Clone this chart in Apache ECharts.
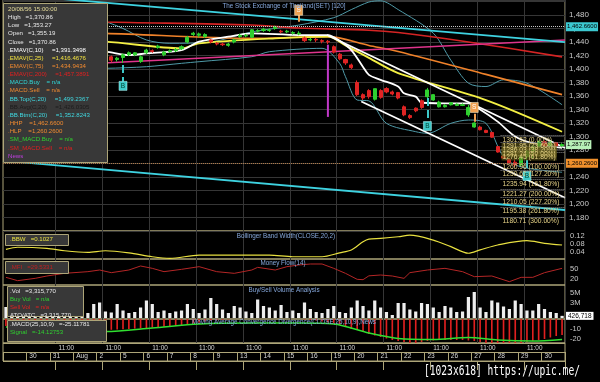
<!DOCTYPE html>
<html><head><meta charset="utf-8">
<script src="https://cdn.jsdelivr.net/npm/echarts@6/dist/echarts.min.js"></script>
<style>html,body{margin:0;padding:0;background:#000;}#c{width:600px;height:382px;}</style>
</head><body><div id="c"></div>
<script>
// ---------- time slots ----------
const dayLabels = ['', '30', '31', 'Aug', '2', '5', '6', '7', '8', '9', '13', '14', '15', '16', '19', '20', '21', '22', '23', '26', '27', '28', '29', '30'];
const barsPerDay = 4;
const hourLabel = '11:00';
const categories = [];
dayLabels.forEach((d, di) => { for (let k = 0; k < barsPerDay; k++) categories.push(di + ':' + k); });

// ---------- price bars (index 0..95) ----------
const opens  = [1432,1436,1433,1428,1431,1426,1424,1428,1425,1420,1423,1419,1416,1420,1417,1421,1418,1420,1418,1414,1417,1421,1421,1411,1424,1427,1432,1421,1426,1427,1430,1440,1451,1450,1448,1443,1438,1437,1435,1440,1448,1449,1447,1456,1457,1457,1460,1456,1455,1453,1452,1446,1443,1444,1442,1441,1433,1422,1414,1406,1380,1362,1368,1355.19,1368,1371,1366,1365,1344,1331,1342,1353,1359,1354,1344,1344,1347,1346,1346,1332,1314,1314,1309,1306,1285,1271,1266,1262,1258,1270,1278,1285,1292,1286,1291,1286];
const closes = [1436,1433,1428,1431,1426,1424,1428,1425,1420,1423,1419,1416,1420,1417,1421,1418,1420,1417,1413,1416,1421,1424,1424,1418,1428,1426,1434,1425,1427,1429,1433,1447,1453,1452,1451,1440,1437,1436,1437,1443,1450,1450,1458,1457,1459,1458,1462,1455,1456,1454,1453,1442,1444,1443,1441,1440,1425,1415,1409,1402,1362,1357,1359,1370.86,1358,1366,1363,1357,1332,1328,1338,1343,1369,1362,1351,1346,1350,1348,1347,1343,1320,1310,1306,1299,1277,1268,1261,1258,1270,1278,1285,1292,1286,1291,1286,1287.97];
const lows   = [1430,1430,1425,1426,1423,1420,1422,1421,1417,1418,1416,1412,1414,1414,1415,1415,1416,1414,1410,1411,1409,1419,1419,1409,1422,1424,1430,1419,1424,1425,1428,1438,1449,1447,1446,1438,1435,1434,1433,1438,1446,1447,1446,1454,1455,1455,1458,1453,1453,1451,1450,1440,1441,1440,1438,1437,1423,1413,1406,1400,1360,1354,1356,1353.27,1356,1364,1361,1355,1330,1326,1336,1341,1357,1353,1343,1343,1346,1345,1345,1329,1313,1309,1305,1298,1276,1267,1260,1255,1256,1266,1268,1283,1284,1285,1284,1284];
const highs  = [1439,1438,1435,1433,1432,1428,1430,1429,1426,1425,1424,1421,1422,1421,1423,1422,1423,1421,1420,1418,1423,1426,1425,1420,1430,1429,1436,1427,1429,1431,1435,1449,1455,1454,1453,1444,1440,1439,1439,1445,1452,1452,1459,1459,1461,1460,1464,1458,1458,1456,1456,1448,1446,1446,1444,1443,1435,1424,1415,1408,1383,1364,1370,1370.86,1370,1373,1368,1366,1346,1333,1343,1355,1372,1363,1353,1348,1351,1349,1349,1347,1321,1316,1310,1307,1286,1272,1267,1266,1272,1280,1287,1294,1294,1293,1292,1290];

// ---------- indicator key points [barIndex, value] ----------
const ema10  = [[0,1432],[8,1428],[17,1425.6],[21,1420.7],[24,1423],[30,1428],[33,1440.5],[38,1447.9],[42,1452.8],[50,1450.3],[55,1450.3],[57,1442],[59,1428],[61,1403],[62,1391.3],[64,1384],[67,1374],[68,1364],[70,1359],[71,1350],[77,1349],[79,1349],[81,1340],[84,1322],[87,1300],[90,1290],[95,1283]];
const ema25  = [[0,1445],[17,1440.5],[30,1430.6],[33,1438],[46,1445.5],[55,1447.9],[58,1435],[62,1416.5],[67,1394],[82,1354],[95,1307]];
const ema75  = [[0,1455],[17,1452.8],[42,1445.4],[55,1447.9],[62,1434.9],[67,1426],[82,1392],[95,1362]];
const ema200 = [[0,1474],[17,1469.6],[42,1465.2],[50,1460.7],[62,1457.4],[67,1454],[79,1440],[95,1418]];
const bbTop  = [[0,1478],[12,1480],[17,1470],[20,1460],[24,1443],[28,1438],[35,1440],[42,1455],[50,1465],[56,1476],[59,1488],[62,1499.2],[64,1501],[67,1488],[73,1453],[76,1413],[79,1379],[82,1374],[85,1384],[89,1379],[95,1347]];
const bbBtm  = [[0,1400],[17,1401],[24,1403.4],[30,1408.4],[33,1410.8],[42,1418.2],[45,1425.6],[54,1430.6],[57,1408.4],[58,1388.6],[60,1354],[62,1352.8],[65,1319.5],[70,1307.1],[72,1304.7],[76,1319.5],[79,1324.4],[82,1319.5],[85,1270],[88,1255],[95,1247]];

// trend lines, positions in bar units on a 0..96 scale
const trendCyanUpper = [[0,1511.2],[96,1439.7]];
const trendCyanLower = [[0,1264.1],[96,1191.1]];
const trendMagenta   = [[0,1401.5],[96,1442.9]];
const channelUpper   = [[55.35,1450.3],[96,1282.9]];
const channelLower   = [[61.2,1351.8],[96,1209.2]];

const hhp = 1462.66, hlp = 1260.26, lastClose = 1287.97;
const newsBar = 55, newsRange = [1436, 1329];
const buySignals  = [{bar:20, from:1406, to:1381, box:1375}, {bar:72, from:1357, to:1321, box:1315.5}, {bar:89, from:1265, to:1250, box:1241.5}];
const sellSignals = [{bar:50, from:1470, to:1481, box:1487}, {bar:80, from:1322, to:1336, box:1343}];
const fibStartBar = 85;
const fibLevels = [1301.52,1291.95,1286.03,1281.24,1276.45,1260.96,1250.61,1235.94,1221.27,1210.05,1195.38,1180.71];
const fibPct    = ['0.00','23.60','38.20','50.00','61.80','100.00','127.20','161.80','200.00','227.20','261.80','300.00'];

// sub panels
const bbw = [[0,0.053],[2,0.063],[7,0.058],[10,0.046],[14,0.038],[17,0.046],[21,0.036],[25,0.017],[28,0.009],[33,0.025],[39,0.025],[45,0.025],[49,0.017],[54,0.017],[57,0.036],[59,0.050],[61,0.090],[62,0.1027],[64,0.106],[67,0.114],[69,0.122],[73,0.098],[76,0.066],[79,0.034],[81,0.050],[84,0.074],[89,0.095],[92,0.082],[95,0.074]];
const mfi = [[0,25],[2,15],[5,22],[7,29],[10,37],[14,42],[16,47],[18,39],[21,47],[23,59],[25,52],[27,42],[30,49],[33,57],[36,42],[39,37],[42,47],[43,55],[46,47],[48,57],[50,62],[52,65],[54,65],[56,52],[58,37],[60,19],[61,18],[62,29.5],[64,32],[66,29],[68,22],[69,39],[72,47],[75,52],[78,42],[80,27],[83,29],[86,12],[88,25],[90,25],[92,39],[95,52]];
const volumeM = [2.2,1.5,1.8,2.5,1.2,1.6,2.0,3.0,1.4,1.8,2.6,1.3,1.7,2.1,
  1.0,2.8,3.1,1.3,1.1,2.8,1.5,1.0,1.2,2.1,3.5,2.8,1.2,1.5,1.0,1.3,1.5,2.8,1.8,1.0,1.7,4.0,2.8,1.7,1.0,2.4,2.1,1.3,1.0,3.7,2.4,2.1,1.5,2.6,1.2,1.5,1.0,
  3.1,1.8,1.2,1.0,1.8,2.4,1.2,1.0,2.1,3.5,2.4,1.5,3.5,2.1,1.2,0.6,3.0,3.0,1.7,1.3,3.0,2.8,2.1,1.2,2.4,2.1,1.2,1.3,4.2,5.2,2.1,1.2,3.5,3.1,2.3,1.8,3.5,2.8,1.5,1.5,2.8,1.8,1.2,1.0,0.43];
const lastVolume = 426718;
const macd = [-7,-8,-9,-10,-11,-11,-12,-12,-12,-12,-12,-12,-12,-12,-12,-12,-12,
  -11,-10.8,-10.5,-10.2,-10,-9.6,-9.3,-9,-8.6,-8.2,-7.8,-7.4,-7,-6.5,
  -5.5,-4.5,-3.5,-2.5,-1.8,-1.2,-0.8,-0.4,0,0.5,1,1.5,2,2,2,2,1.5,1,0.5,0,
  -0.5,-1,-1.5,-2.5,-3.5,-4.5,-6,-8,-10,-11,-13,-15,-16.5,-18,-19.5,-21,-22,-23,-24,-24,-23,-22,-21.5,-21,-21,-21,-21,-21,-21.5,-22,-23,-24,-24,-25,-26,-26,-25,-24,-23,-22,-21,-20,-18.5,-17,-16];
const signal = [[0,-8],[8,-10],[17,-12.5],[25,-9],[33,-5],[42,-4],[50,-4],[56,-5],[62,-14.1],[67,-19.5],[73,-20.5],[79,-18.5],[84,-21],[90,-22],[95,-20.5]];

// ---------- styles ----------
const KH = '#ada578';
const GL = '#363636';
const FONT = 'Liberation Sans, Arial, sans-serif';
const gridLineSlot = (i) => i % 8 === 1 && i > 1;
const hourSlot = (i) => Math.floor(i / barsPerDay) % 2 === 0 && Math.floor(i / barsPerDay) >= 2 && i % barsPerDay === 1;
const daySlot = (i) => i % barsPerDay === 0;

function catX(gi) {
  return {type:'category', gridIndex:gi, data:categories, boundaryGap:true,
    axisLine:{show:false}, axisTick:{show:false}, axisLabel:{show:false},
    splitLine:{show:true, interval:gridLineSlot, lineStyle:{color:GL, width:1}}};
}
function gridBox(top, height) {
  return {left:3, top:top, width:562, height:height, show:true, borderColor:KH, borderWidth:1, backgroundColor:'transparent'};
}
function subY(gi, min, max, custom, fmt) {
  return {type:'value', gridIndex:gi, position:'right', min:min, max:max, splitLine:{show:false},
    axisLine:{show:false}, axisTick:{show:false},
    axisLabel:{show:true, customValues:custom, color:'#c8c8c8', fontSize:7.5, margin:5, fontFamily:FONT, formatter:fmt}};
}
function line(data, color, width, xi, yi, smooth, z) {
  return {type:'line', xAxisIndex:xi, yAxisIndex:yi, data:data, showSymbol:false, symbol:'none',
    smooth:smooth, lineStyle:{color:color, width:width}, z:z || 2, silent:true};
}

const markPoints = [];
const stems = [];
buySignals.forEach(s => {
  stems.push([{coord:[s.bar + 0.5, s.from], lineStyle:{color:'#3cc8c8', width:2}}, {coord:[s.bar + 0.5, s.to]}]);
  markPoints.push({coord:[s.bar + 0.5, s.box], symbol:'rect', symbolSize:[8,9],
    itemStyle:{color:'#3cc8c8', borderColor:'#bff', borderWidth:0.5},
    label:{show:true, formatter:'B', color:'#043', fontSize:6.5, fontFamily:FONT}});
});
sellSignals.forEach(s => {
  stems.push([{coord:[s.bar + 0.5, s.from], lineStyle:{color:'#f0a050', width:2}}, {coord:[s.bar + 0.5, s.to]}]);
  markPoints.push({coord:[s.bar + 0.5, s.box], symbol:'rect', symbolSize:[8,10],
    itemStyle:{color:'#f0a050', borderColor:'#ffd', borderWidth:0.5},
    label:{show:true, formatter:'S', color:'#fff', fontSize:6.5, fontFamily:FONT}});
});
const fibLines = fibLevels.map((lv, k) => {
  const hidden = k >= 1 && k <= 4;
  return [{coord:[fibStartBar, lv],
    lineStyle:{color:'#8a8a8a', type:'dotted', width:1},
    label:{show:true, position:'insideStartBottom', distance:1, formatter: lv.toFixed(2) + ' (' + fibPct[k] + '%)',
      color:'#e8d488', fontSize:6.7, fontFamily:FONT,
      backgroundColor: hidden ? 'rgba(110,100,30,0.55)' : 'transparent', padding:[0,1]}},
    {coord:[96, lv]}];
});
const tagLabel = (text, bg) => ({show:true, position:'end', distance:1, formatter:text, backgroundColor:bg, color:'#000', fontSize:6, padding:[2,1,1,1], fontFamily:FONT});
const valueTags = [
  {yAxis:hhp, lineStyle:{color:'#c8c8c8', type:'dotted', width:1}, label:tagLabel('1,462.6600', '#3cc8d0')},
  {yAxis:hlp, lineStyle:{color:'#b07a48', type:'dotted', width:1}, label:tagLabel('1,260.2600', '#f0902c')},
  {yAxis:lastClose, lineStyle:{color:'rgba(0,0,0,0)', width:1}, label:tagLabel('1,287.97', '#b8f0b8')}
];

const legendLines = [
  ['20/08/56 15:00:00', '#e6dc9a'],
  ['High   =1,370.86', '#e8e8e8'],
  ['Low   =1,353.27', '#e8e8e8'],
  ['Open   =1,355.19', '#e8e8e8'],
  ['Close   =1,370.86', '#e8e8e8'],
  ['.EMAV(C,10)     =1,391.3498', '#ffffff'],
  ['.EMAV(C,25)     =1,416.4676', '#f0e040'],
  ['.EMAV(C,75)     =1,434.9434', '#f08a30'],
  ['.EMAV(C,200)     =1,457.3891', '#e02020'],
  ['.MACD.Buy    = n/a', '#30d8d8'],
  ['.MACD.Sell    = n/a', '#f08a30'],
  ['.BB.Top(C,20)     =1,499.2367', '#40d8e0'],
  ['.BB.Avg(C,20)     =1,426.0305', '#1c1c1c'],
  ['.BB.Btm(C,20)     =1,352.8243', '#40d8e0'],
  ['.HHP    =1,462.6600', '#f08a30'],
  ['.HLP    =1,260.2600', '#f08a30'],
  ['.SM_MACD.Buy    = n/a', '#30d030'],
  ['.SM_MACD.Sell    = n/a', '#e02020'],
  ['News', '#c040e0']
];
const volLines = [['.Vol   =3,315,770', '#e8e8e8'], ['Buy Vol   = n/a', '#30d030'], ['Sell Vol   = n/a', '#e02020'], ['ATO/ATC   =3,315,770', '#e8e8e8']];
const macdLines = [['.MACD(25,10,9)   =-25.11781', '#e8e8e8'], ['Signal   =-14.12753', '#30d030']];

function txt(x, y, s, color, size, align) {
  return {type:'text', x:x, y:y, z:100, silent:true,
    style:{text:s, fill:color, font: size + 'px ' + FONT, textAlign: align || 'left', textVerticalAlign:'middle'}};
}
function box(x, y, w, h) {
  return {type:'rect', z:99, silent:true, shape:{x:x, y:y, width:w, height:h}, style:{fill:'#383838', stroke:KH, lineWidth:1}};
}
const graphics = [];
graphics.push(box(3.5, 3.5, 104, 159));
legendLines.forEach((l, k) => graphics.push(txt(8, 9.3 + k * 8.15, l[0], l[1], 6.1)));
graphics.push(box(5.5, 234.5, 63, 11));
graphics.push(txt(10, 239, '.BBW   =0.1027', '#e8e040', 6.1));
graphics.push(box(5.5, 261.5, 63, 12));
graphics.push(txt(10, 267, '.MFI   =29.5331', '#c02020', 6.1));
graphics.push(box(7.5, 286.5, 76, 30));
volLines.forEach((l, k) => graphics.push(txt(10, 291.3 + k * 7.9, l[0], l[1], 6.1)));
graphics.push(box(7.5, 320.5, 99, 21));
macdLines.forEach((l, k) => graphics.push(txt(10, 324.8 + k * 8, l[0], l[1], 6.1)));
const titleColor = '#86a8dc';
graphics.push(txt(284, 6, 'The Stock Exchange of Thailand(SET) [120]', titleColor, 6.3, 'center'));
graphics.push(txt(286, 236.5, 'Bollinger Band Width(CLOSE,20,2)', titleColor, 6.3, 'center'));
graphics.push(txt(283, 263.5, 'Money Flow(14)', titleColor, 6.3, 'center'));
graphics.push(txt(284, 290.5, 'Buy/Sell Volume Analysis', titleColor, 6.3, 'center'));
graphics.push(txt(284, 322.5, 'Moving Average Convergence Divergence(CLOSE,25,10,9),News', titleColor, 6.3, 'center'));
graphics.push({type:'text', x:424, y:371.5, scaleY:1.5, z:100, silent:true,
  style:{text:'[1023x618] https://upic.me/', fill:'#ffffff', font:'9.6px DejaVu Sans Mono, monospace', textAlign:'left', textVerticalAlign:'middle'}});

const option = {
  backgroundColor:'#000',
  animation:false,
  textStyle:{fontFamily:FONT},
  grid:[gridBox(0,231), gridBox(231,28), gridBox(259,26), gridBox(285,34), gridBox(319,24), gridBox(343,18)],
  xAxis:[
    catX(0),
    {type:'value', gridIndex:0, min:0, max:96, show:false},
    catX(1), catX(2), catX(3), catX(4),
    {type:'category', gridIndex:5, data:categories, position:'top', boundaryGap:true,
      axisLine:{show:false}, splitLine:{show:false},
      axisTick:{show:true, inside:true, length:9, interval:hourSlot, lineStyle:{color:KH}},
      axisLabel:{show:true, inside:true, interval:hourSlot, formatter:() => hourLabel, color:'#d8d8d8', fontSize:6.4, fontFamily:FONT, align:'left', margin:2}},
    {type:'category', gridIndex:5, data:categories, position:'bottom', boundaryGap:true,
      axisLine:{show:false}, splitLine:{show:false},
      axisTick:{show:true, inside:true, length:9, interval:daySlot, lineStyle:{color:KH}},
      axisLabel:{show:true, inside:true, interval:daySlot, formatter:(v, i) => dayLabels[Math.floor(i / barsPerDay)], color:'#d8d8d8', fontSize:6.6, fontFamily:FONT, align:'left', margin:1}}
  ],
  yAxis:[
    {type:'value', gridIndex:0, position:'right', min:1160, max:1502.2, interval:20,
      axisLine:{show:false}, axisTick:{show:false},
      splitLine:{show:true, lineStyle:{color:GL, width:1}},
      axisLabel:{color:'#c8c8c8', fontSize:8, margin:4, fontFamily:FONT,
        formatter:(v) => (v >= 1180 && v <= 1480) ? v.toLocaleString('en-US') : ''}},
    subY(1, 0.006, 0.142, [0.04,0.08,0.12], (v) => v.toFixed(2)),
    subY(2, 2, 80, [20,50], (v) => String(v)),
    subY(3, -0.2, 6.6, [3,5], (v) => v + 'M'),
    subY(4, -24, 0, [-10,-20], (v) => String(v)),
    {type:'value', gridIndex:5, min:0, max:2, interval:1, show:true, axisLine:{show:false}, axisTick:{show:false}, axisLabel:{show:false},
      splitLine:{show:true, lineStyle:{color:KH, width:1}}}
  ],
  graphic: graphics,
  series:[
    line(bbTop, '#4f9aa8', 1, 0, 0, 0.3),
    line(bbBtm, '#4f9aa8', 1, 0, 0, 0.3),
    line(ema200, '#d42424', 1.6, 0, 0, 0.3),
    line(ema75, '#f0822a', 1.6, 0, 0, 0.3),
    line(trendMagenta, '#e0348c', 1.6, 1, 0, false),
    line(trendCyanUpper, '#3ed2e0', 1.8, 1, 0, false),
    line(trendCyanLower, '#3ed2e0', 1.8, 1, 0, false),
    line(ema25, '#f4f044', 1.8, 0, 0, 0.3),
    line(ema10, '#ffffff', 1.8, 0, 0, 0.3),
    line(channelUpper, '#ffffff', 1.8, 1, 0, false),
    line(channelLower, '#ffffff', 1.8, 1, 0, false),
    {type:'line', xAxisIndex:1, yAxisIndex:0, showSymbol:false, symbol:'none', silent:true, z:3,
      data:[[newsBar + 0.5, newsRange[0]], [newsBar + 0.5, newsRange[1]]],
      lineStyle:{color:'#c038c8', width:2},
      markLine:{silent:true, symbol:['none','none'], animation:false, label:{show:false},
        data: fibLines.concat(valueTags)}},
    {type:'candlestick', xAxisIndex:0, yAxisIndex:0, barWidth:'62%', silent:true, z:4,
      data: opens.map((o, i) => [o, closes[i], lows[i], highs[i]]),
      itemStyle:{color:'#2fd02f', color0:'#e02424', borderColor:'#2fd02f', borderColor0:'#e02424', borderWidth:1}},
    {type:'line', xAxisIndex:1, yAxisIndex:0, data:[], silent:true, z:5,
      markLine:{silent:true, symbol:['none','none'], label:{show:false}, data:stems},
      markPoint:{silent:true, data:markPoints}},
    line(bbw, '#e8e040', 1.2, 2, 1, 0.3),
    line(mfi, '#b42626', 1, 3, 2, false),
    {type:'bar', xAxisIndex:4, yAxisIndex:3, data:volumeM, barWidth:'55%', silent:true,
      itemStyle:{color:'#eeeeee'},
      markLine:{silent:true, symbol:['none','none'],
        data:[{yAxis:lastVolume / 1e6, lineStyle:{color:'rgba(0,0,0,0)'},
          label:{show:true, position:'end', distance:1, formatter: lastVolume.toLocaleString('en-US'), backgroundColor:'#ffffff', color:'#000', fontSize:6.5, padding:[1,2,0,2], fontFamily:FONT}}]}},
    {type:'bar', xAxisIndex:5, yAxisIndex:4, data:macd, barWidth:'28%', silent:true, itemStyle:{color:'#e02020'}},
    line(signal, '#30e030', 1.5, 5, 4, 0.3, 5)
  ]
};
const chart = echarts.init(document.getElementById('c'), null, {renderer:'canvas', width:600, height:382});
chart.setOption(option);
</script>
</body></html>
